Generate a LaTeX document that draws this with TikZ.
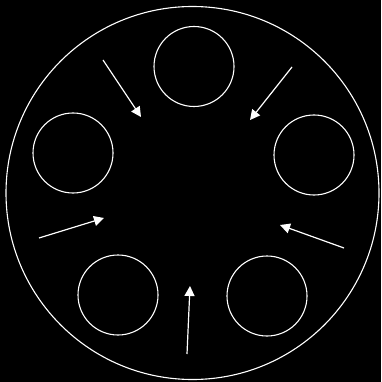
\documentclass[tikz,border=0pt]{standalone}
\usetikzlibrary{arrows.meta}

\begin{document}
\begin{tikzpicture}[
  x=1pt, y=-1pt,
  ring/.style={draw=white, circle, line width=1.1pt, inner sep=0pt,
               minimum size=80pt},
  dish/.style={draw=white, circle, line width=1.1pt, inner sep=0pt,
               minimum size=373pt},
  arr/.style={-{Triangle[length=10pt, width=10pt]}, draw=white,
              line width=1.2pt}
]

% background
\fill[black] (0,0) rectangle (381,382);
\useasboundingbox (0,0) rectangle (381,382);

\node[dish] (outer) at (192.5,193) {};

\node[ring] (top)   at (194,66.5) {};
\node[ring] (left)  at (73,153) {};
\node[ring] (right) at (314,155) {};
\node[ring] (botl)  at (118,295) {};
\node[ring] (botr)  at (267,296) {};

% arrows pointing inward
\coordinate (t1) at (103,60);   \coordinate (h1) at (141,117);
\coordinate (t2) at (292,67);   \coordinate (h2) at (250,120);
\coordinate (t3) at (39,238);   \coordinate (h3) at (104,218);
\coordinate (t4) at (344,248);  \coordinate (h4) at (280,225);
\coordinate (t5) at (187,354);  \coordinate (h5) at (190,286);

\foreach \i in {1,...,5}
  \draw[arr] (t\i) -- (h\i);

\end{tikzpicture}
\end{document}
